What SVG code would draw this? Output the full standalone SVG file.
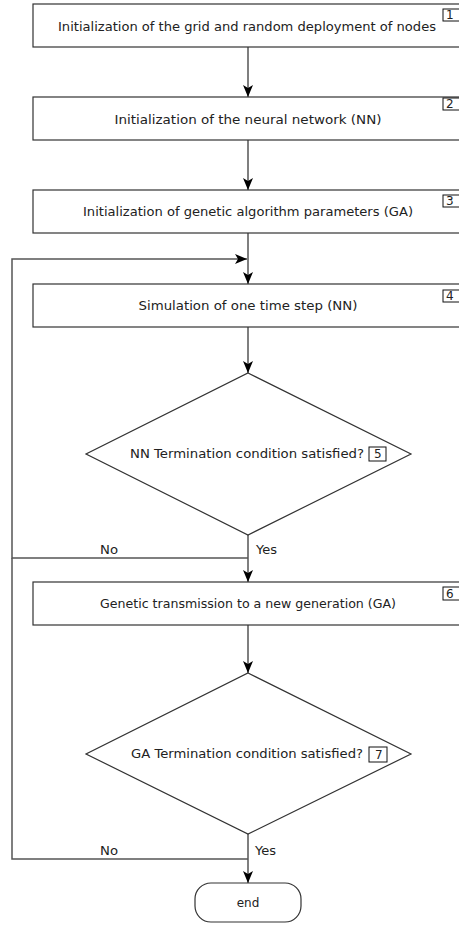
<svg xmlns="http://www.w3.org/2000/svg" width="459" height="925" viewBox="0 0 459 925">
<defs>
<style>
.box{fill:#fff;stroke:#333;stroke-width:1.2}
.num{fill:#fff;stroke:#111;stroke-width:1}
.t{font-family:"DejaVu Sans",sans-serif;font-size:12px;fill:#222}
.c{text-anchor:middle}
.ln{fill:none;stroke:#555;stroke-width:1.5}
</style>
<marker id="ah" viewBox="0 0 12 10" refX="12" refY="5" markerWidth="12" markerHeight="10" markerUnits="userSpaceOnUse" orient="auto">
<path d="M0,0 L12,5 L0,10 L3,5 Z" fill="#000"/>
</marker>
</defs>
<rect width="459" height="925" fill="#fff"/>
<g id="connectors">
<line class="ln" x1="248" y1="47" x2="248" y2="97" marker-end="url(#ah)"/>
<line class="ln" x1="248" y1="140" x2="248" y2="190" marker-end="url(#ah)"/>
<line class="ln" x1="248" y1="233" x2="248" y2="284" marker-end="url(#ah)"/>
<polyline class="ln" points="248,558 12,558 12,259 247,259" marker-end="url(#ah)"/>
<polyline class="ln" points="248,859 12,859 12,558"/>
<line class="ln" x1="248" y1="327" x2="248" y2="373" marker-end="url(#ah)"/>
<line class="ln" x1="248" y1="535" x2="248" y2="582" marker-end="url(#ah)"/>
<line class="ln" x1="248" y1="625" x2="248" y2="673" marker-end="url(#ah)"/>
<line class="ln" x1="248" y1="834" x2="248" y2="883" marker-end="url(#ah)"/>
<text class="t" x="100" y="554" textLength="18" lengthAdjust="spacingAndGlyphs">No</text>
<text class="t" x="256" y="554" textLength="21" lengthAdjust="spacingAndGlyphs">Yes</text>
<text class="t" x="100" y="855" textLength="18" lengthAdjust="spacingAndGlyphs">No</text>
<text class="t" x="255" y="855" textLength="21" lengthAdjust="spacingAndGlyphs">Yes</text>
</g>
<g id="n1">
<rect class="box" x="33" y="4" width="430" height="43"/>
<text class="t c" x="247" y="31" textLength="378" lengthAdjust="spacingAndGlyphs">Initialization of the grid and random deployment of nodes</text>
<rect class="num" x="443" y="9" width="18" height="12"/>
<text class="t" x="446" y="19">1</text>
</g>
<g id="n2">
<rect class="box" x="33" y="97" width="430" height="43"/>
<text class="t c" x="248" y="124" textLength="267" lengthAdjust="spacingAndGlyphs">Initialization of the neural network (NN)</text>
<rect class="num" x="443" y="98" width="18" height="12"/>
<text class="t" x="446" y="108">2</text>
</g>
<g id="n3">
<rect class="box" x="33" y="190" width="430" height="43"/>
<text class="t c" x="248" y="216" textLength="330" lengthAdjust="spacingAndGlyphs">Initialization of genetic algorithm parameters (GA)</text>
<rect class="num" x="443" y="195" width="18" height="12"/>
<text class="t" x="446" y="205">3</text>
</g>
<g id="n4">
<rect class="box" x="33" y="284" width="430" height="43"/>
<text class="t c" x="248" y="310" textLength="219" lengthAdjust="spacingAndGlyphs">Simulation of one time step (NN)</text>
<rect class="num" x="443" y="290" width="18" height="12"/>
<text class="t" x="446" y="300">4</text>
</g>
<g id="n5">
<polygon class="box" points="248,373 411,454 248,535 86,454"/>
<text class="t" x="130" y="458" textLength="234" lengthAdjust="spacingAndGlyphs">NN Termination condition satisfied?</text>
<rect class="num" x="369" y="447" width="17" height="14"/>
<text class="t" x="374" y="458">5</text>
</g>
<g id="n6">
<rect class="box" x="33" y="582" width="430" height="43"/>
<text class="t c" x="248" y="608" textLength="296" lengthAdjust="spacingAndGlyphs">Genetic transmission to a new generation (GA)</text>
<rect class="num" x="443" y="587" width="18" height="13"/>
<text class="t" x="446" y="598">6</text>
</g>
<g id="n7">
<polygon class="box" points="248,673 411,754 248,834 86,754"/>
<text class="t" x="131" y="758" textLength="232" lengthAdjust="spacingAndGlyphs">GA Termination condition satisfied?</text>
<rect class="num" x="369" y="747" width="18" height="15"/>
<text class="t" x="375" y="759">7</text>
</g>
<g id="end">
<rect class="box" x="195" y="883" width="106" height="39" rx="16" ry="16"/>
<text class="t c" x="248" y="907">end</text>
</g>
</svg>
